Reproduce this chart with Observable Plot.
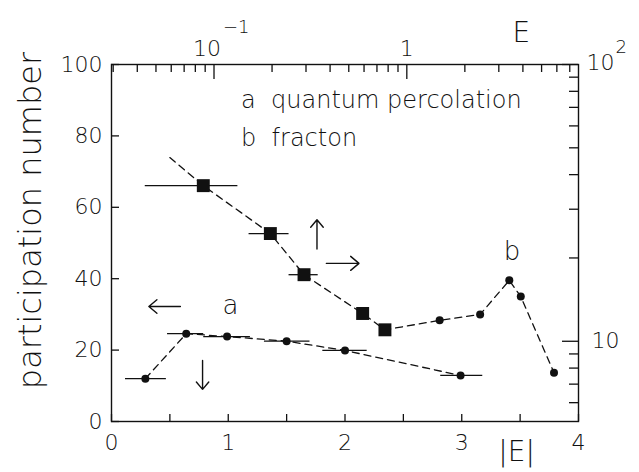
<!DOCTYPE html>
<html><head><meta charset="utf-8">
<script src="https://cdn.jsdelivr.net/npm/d3@7"></script>
<script src="https://cdn.jsdelivr.net/npm/@observablehq/plot@0.6"></script>
<style>
html,body{margin:0;padding:0;background:#fff;}
</style>
</head><body>
<div id="chart"></div>
<script>
// ---- series a: quantum percolation (bottom |E| / left axis) ----
const aE  = [0.29, 0.64, 0.99, 1.50, 2.00, 2.99];
const aP  = [12.0, 24.6, 23.8, 22.5, 19.9, 12.9];
const aLo = [0.12, 0.48, 0.79, 1.31, 1.81, 2.82];
const aHi = [0.47, 0.79, 1.19, 1.70, 2.19, 3.18];

// ---- series b: fracton (top E log axis / right log axis) ----
const bE     = [0.088, 0.196, 0.293, 0.59, 0.77, 1.48, 2.4, 3.4, 3.9, 5.8];
const bP     = [36.5, 24.5, 17.4, 12.6, 11.0, 11.9, 12.5, 16.6, 14.5, 7.7];
const bShape = ["square","square","square","square","square","dot","dot","dot","dot","dot"];
const bLo    = [0.044, 0.152, 0.245, null, null, null, null, null, null, null];
const bHi    = [0.133, 0.245, 0.347, null, null, null, null, null, null, null];
const bFitStart = {E: 0.059, P: 46.1};

// ---- axes ----
const xTicks = [0, 1, 2, 3, 4];
const xMinorTicks = [0, 0.5, 1, 1.5, 2, 2.5, 3, 3.5, 4];
const yTicks = [0, 20, 40, 60, 80, 100];
const topDomain = [0.0294, 7.77];
const topMajor = [0.1, 1];
const topMinor = [0.03,0.04,0.05,0.06,0.07,0.08,0.09,0.2,0.3,0.4,0.5,0.6,0.7,0.8,0.9,2,3,4,5,6,7];
const rightDomain = [5.13, 100];
const rightMajor = [10, 100];
const rightMinor = [6,7,8,9,20,30,40,50,60,70,80,90];

// ---- annotations ----
const arrows = [
  {x1: 0.59, y1: 32.2, x2: 0.32, y2: 32.2},
  {x1: 0.78, y1: 17.1, x2: 0.78, y2: 9.0},
  {x1: 1.76, y1: 48.3, x2: 1.76, y2: 56.5},
  {x1: 1.84, y1: 44.3, x2: 2.12, y2: 44.3}
];
const legendLines = [
  {x: 1.11, y: 89.9, text: "a\u00a0\u00a0quantum percolation"},
  {x: 1.11, y: 79.2, text: "b\u00a0\u00a0fracton"}
];
const seriesLabels = [{x: 1.02, y: 32.5, text: "a"}, {x: 3.43, y: 47.6, text: "b"}];

// mapping of the secondary (log) axes onto the primary frame
const L = Math.log10;
const toX = E => 4 * (L(E) - L(topDomain[0])) / (L(topDomain[1]) - L(topDomain[0]));
const toY = v => 100 * (L(v) - L(rightDomain[0])) / (L(rightDomain[1]) - L(rightDomain[0]));

const aData = aE.map((e, i) => ({x: e, y: aP[i], lo: aLo[i], hi: aHi[i]}));
const bData = bE.map((e, i) => ({x: toX(e), y: toY(bP[i]), shape: bShape[i],
  lo: bLo[i] == null ? null : toX(bLo[i]), hi: bHi[i] == null ? null : toX(bHi[i])}));
const bLine = [{x: toX(bFitStart.E), y: toY(bFitStart.P)}, ...bData];

const W = 639, H = 472;
const mL = 111, mR = 61, mT = 64, mB = 51;
const fw = W - mL - mR, fh = H - mT - mB;
const FONT = "DejaVu Sans";

const chart = Plot.plot({
  width: W, height: H,
  marginLeft: mL, marginRight: mR, marginTop: mT, marginBottom: mB,
  style: {fontFamily: FONT, fontSize: "22px", fontWeight: 200, color: "#111", background: "#fff"},
  x: {domain: [0, 4]},
  y: {domain: [0, 100]},
  marks: [
    Plot.frame({stroke: "#111", strokeWidth: 1.4}),
    // primary axes labels
    Plot.axisX({ticks: xTicks, tickFormat: d3.format("d"), tickSize: 0, tickPadding: 13, fontSize: 22, label: null}),
    Plot.axisY({ticks: yTicks, tickFormat: d3.format("d"), tickSize: 0, tickPadding: 9, fontSize: 22, label: null}),
    // inward ticks
    Plot.tickX(xMinorTicks, {x: d => d, insetTop: fh - 7, stroke: "#111", strokeWidth: 1.3}),
    Plot.tickY(yTicks, {y: d => d, insetRight: fw - 8, stroke: "#111", strokeWidth: 1.3}),
    // top log axis
    Plot.tickX(topMajor, {x: toX, insetBottom: fh - 15, stroke: "#111", strokeWidth: 1.3}),
    Plot.tickX(topMinor, {x: toX, insetBottom: fh - 8, stroke: "#111", strokeWidth: 1.3}),
    Plot.text(["10"], {x: () => toX(0.1), frameAnchor: "top", dy: -24, dx: -7, fontSize: 22}),
    Plot.text(["\u22121"], {x: () => toX(0.1), frameAnchor: "top", dy: -44, dx: 9, textAnchor: "start", fontSize: 18}),
    Plot.text(["1"], {x: () => toX(1), frameAnchor: "top", dy: -24, fontSize: 22}),
    Plot.text(["E"], {x: () => 3.51, frameAnchor: "top", dy: -42, fontSize: 28}),
    // right log axis
    Plot.tickY(rightMajor, {y: toY, insetLeft: fw - 16, stroke: "#111", strokeWidth: 1.3}),
    Plot.tickY(rightMinor, {y: toY, insetLeft: fw - 9, stroke: "#111", strokeWidth: 1.3}),
    Plot.text(["10"], {y: () => toY(10), frameAnchor: "right", dx: 13, textAnchor: "start", fontSize: 22}),
    Plot.text(["10"], {y: () => toY(100), frameAnchor: "right", dx: 8, dy: -2, textAnchor: "start", fontSize: 22}),
    Plot.text(["2"], {y: () => toY(100), frameAnchor: "right", dx: 37, dy: -17, textAnchor: "start", fontSize: 18}),
    // axis titles
    Plot.text(["|E|"], {x: () => 3.47, frameAnchor: "bottom", dy: 39, fontSize: 28}),
    Plot.text(["participation number"], {y: () => 56.3, frameAnchor: "left", textAnchor: "middle", dx: -81, rotate: -90, fontSize: 32}),
    // series a
    Plot.ruleY(aData, {y: "y", x1: "lo", x2: "hi", stroke: "#111", strokeWidth: 1.3}),
    Plot.line(aData, {x: "x", y: "y", stroke: "#111", strokeWidth: 1.3, strokeDasharray: "7,5"}),
    Plot.dot(aData, {x: "x", y: "y", r: 4, fill: "#111", stroke: "none"}),
    // series b
    Plot.ruleY(bData.filter(d => d.lo != null), {y: "y", x1: "lo", x2: "hi", stroke: "#111", strokeWidth: 1.3}),
    Plot.line(bLine, {x: "x", y: "y", stroke: "#111", strokeWidth: 1.3, strokeDasharray: "7,5"}),
    Plot.dot(bData.filter(d => d.shape === "square"), {x: "x", y: "y", symbol: "square", r: 7.3, fill: "#111", stroke: "none"}),
    Plot.dot(bData.filter(d => d.shape === "dot"), {x: "x", y: "y", r: 4, fill: "#111", stroke: "none"}),
    // annotations
    Plot.arrow(arrows, {x1: "x1", y1: "y1", x2: "x2", y2: "y2", stroke: "#111", strokeWidth: 1.4, headLength: 13, headAngle: 80}),
    Plot.text(legendLines, {x: "x", y: "y", text: "text", textAnchor: "start", fontSize: 24}),
    Plot.text(seriesLabels, {x: "x", y: "y", text: "text", fontSize: 26})
  ]
});
document.getElementById("chart").appendChild(chart);
</script>
</body></html>
